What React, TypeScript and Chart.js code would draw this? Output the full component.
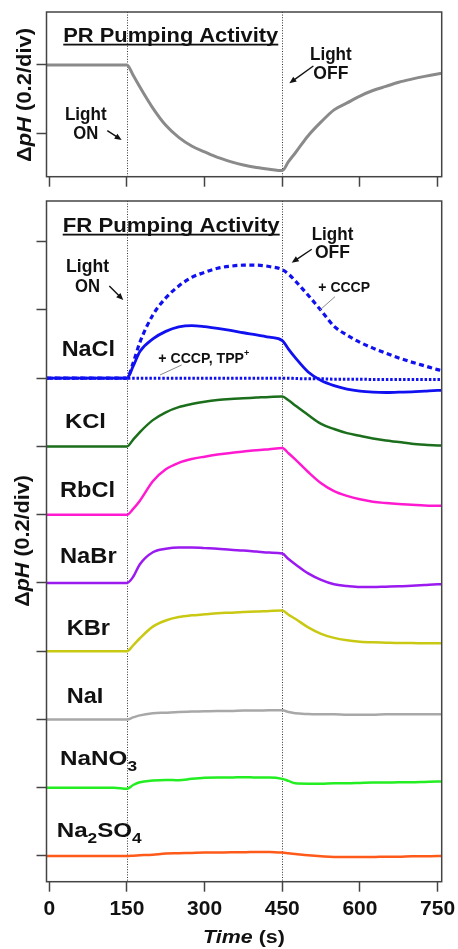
import React, { useEffect, useRef } from 'react';
import { Chart, registerables } from 'chart.js';

Chart.register(...registerables);

const FAMILY = '"Liberation Sans", Arial, sans-serif';

// ---------------- data ----------------
const TIME = [-6, 0, 25, 50, 75, 100, 125, 150, 162, 175, 200, 225, 250, 275, 300, 325, 350, 375, 400, 425, 450, 462, 475, 500, 525, 550, 575, 600, 625, 650, 675, 700, 725, 750, 758];
const X_TICKS = [0, 150, 300, 450, 600, 750];
const LIGHT_EVENTS = [150, 450];
const Y_TICKS_PR = [-0.2, 0];
const Y_TICKS_FR = [0, 0.2, 0.4, 0.6, 0.8, 1.0, 1.2, 1.4, 1.6, 1.8];

// PR (proteorhodopsin) trace, ΔpH
const PR_TRACE = [0, 0, 0, 0, 0, 0, 0, 0, -0.03, -0.064, -0.125, -0.175, -0.21, -0.235, -0.252, -0.268, -0.28, -0.29, -0.297, -0.302, -0.306, -0.28, -0.255, -0.205, -0.165, -0.13, -0.11, -0.09, -0.074, -0.062, -0.05, -0.041, -0.033, -0.026, -0.024];

// FR traces, ΔpH relative to each trace's own baseline
const NACL = [0, 0, 0, 0, 0, 0, 0, 0, 0.035, 0.078, 0.115, 0.137, 0.15, 0.154, 0.151, 0.146, 0.14, 0.133, 0.127, 0.12, 0.11, 0.085, 0.06, 0.018, -0.007, -0.022, -0.032, -0.038, -0.041, -0.042, -0.041, -0.04, -0.038, -0.036, -0.036];
const NACL_CCCP = [0, 0, 0, 0, 0, 0, 0, 0, 0.045, 0.105, 0.185, 0.235, 0.27, 0.295, 0.31, 0.322, 0.328, 0.331, 0.331, 0.327, 0.318, 0.305, 0.285, 0.243, 0.198, 0.152, 0.126, 0.105, 0.088, 0.073, 0.059, 0.047, 0.036, 0.025, 0.022];
const NACL_CCCP_TPP = [0, 0, 0, 0, 0, 0, 0, 0, 0, 0, 0, 0, 0, 0, 0, 0, 0, 0, 0, 0, 0, 0, -0.001, -0.002, -0.002, -0.003, -0.003, -0.003, -0.004, -0.004, -0.004, -0.004, -0.004, -0.004, -0.004];
const KCL = [0, 0, 0, 0, 0, 0, 0, 0, 0.02, 0.042, 0.077, 0.1, 0.115, 0.124, 0.131, 0.136, 0.139, 0.141, 0.143, 0.145, 0.146, 0.135, 0.12, 0.092, 0.066, 0.051, 0.039, 0.031, 0.023, 0.017, 0.013, 0.008, 0.005, 0.003, 0.003];
const RBCL = [0, 0, 0, 0, 0, 0, 0, 0, 0.017, 0.041, 0.098, 0.133, 0.152, 0.163, 0.17, 0.176, 0.181, 0.185, 0.189, 0.192, 0.195, 0.18, 0.162, 0.125, 0.092, 0.069, 0.055, 0.045, 0.038, 0.034, 0.031, 0.029, 0.027, 0.026, 0.026];
const NABR = [0, 0, 0, 0, 0, 0, 0, 0, 0.018, 0.055, 0.09, 0.1, 0.104, 0.104, 0.102, 0.1, 0.097, 0.095, 0.092, 0.089, 0.086, 0.07, 0.055, 0.028, 0.009, -0.004, -0.009, -0.012, -0.012, -0.011, -0.01, -0.008, -0.006, -0.004, -0.004];
const KBR = [0, 0, 0, 0, 0, 0, 0, 0, 0.017, 0.038, 0.072, 0.09, 0.1, 0.105, 0.108, 0.111, 0.113, 0.115, 0.116, 0.118, 0.119, 0.107, 0.095, 0.07, 0.051, 0.039, 0.032, 0.028, 0.026, 0.025, 0.024, 0.024, 0.023, 0.023, 0.023];
const NAI = [0, 0, 0, 0, 0, 0, 0, 0, 0.006, 0.012, 0.018, 0.02, 0.022, 0.023, 0.024, 0.025, 0.025, 0.026, 0.026, 0.027, 0.027, 0.022, 0.018, 0.016, 0.015, 0.015, 0.014, 0.014, 0.014, 0.015, 0.015, 0.015, 0.015, 0.015, 0.015];
const NANO3 = [0, 0, 0, 0, 0, 0, 0, -0.003, 0.008, 0.016, 0.021, 0.023, 0.022, 0.026, 0.029, 0.03, 0.03, 0.031, 0.03, 0.03, 0.026, 0.02, 0.013, 0.012, 0.012, 0.013, 0.013, 0.014, 0.015, 0.015, 0.016, 0.016, 0.017, 0.018, 0.018];
const NA2SO4 = [0, 0, 0, 0, 0, 0, 0, 0, 0.001, 0.002, 0.004, 0.007, 0.008, 0.009, 0.01, 0.01, 0.011, 0.011, 0.012, 0.012, 0.01, 0.008, 0.006, 0.002, -0.001, -0.003, -0.003, -0.003, -0.003, -0.002, -0.002, -0.001, -0.001, 0, 0];

// baseline offset (ΔpH) of each stacked trace
const BASE_NACL = 1.4;
const BASE_KCL = 1.2;
const BASE_RBCL = 1.0;
const BASE_NABR = 0.8;
const BASE_KBR = 0.6;
const BASE_NAI = 0.4;
const BASE_NANO3 = 0.2;
const BASE_NA2SO4 = 0.0;

// ---------------- drawing helpers ----------------
type Run = { t: string; size: number; italic?: boolean; dy?: number };
type Label = { runs: Run[]; t: number; v: number; align: 'left' | 'center'; width: number; underline?: boolean; rotate?: boolean };
type Seg = { from: [number, number]; to: [number, number] };
type Spec = { labels: Label[]; arrows: Seg[]; leaders: Seg[] };

function drawLabel(ctx: CanvasRenderingContext2D, L: Label, px: number, py: number) {
  ctx.save();
  ctx.translate(px, py);
  if (L.rotate) ctx.rotate(-Math.PI / 2);
  const fonts = L.runs.map((r) => `${r.italic ? 'italic ' : ''}bold ${r.size}px ${FAMILY}`);
  let w = 0;
  const ws = L.runs.map((r, i) => {
    ctx.font = fonts[i];
    const m = ctx.measureText(r.t).width;
    w += m;
    return m;
  });
  ctx.scale(L.width / w, 1);
  let cx = L.align === 'center' ? -w / 2 : 0;
  const x0 = cx;
  ctx.fillStyle = '#111';
  ctx.textAlign = 'left';
  ctx.textBaseline = 'alphabetic';
  L.runs.forEach((r, i) => {
    ctx.font = fonts[i];
    ctx.fillText(r.t, cx, r.dy || 0);
    cx += ws[i];
  });
  if (L.underline) ctx.fillRect(x0, 2, w, 1.8);
  ctx.restore();
}

function drawArrow(ctx: CanvasRenderingContext2D, x1: number, y1: number, x2: number, y2: number) {
  const a = Math.atan2(y2 - y1, x2 - x1);
  const L = 7, W = 3;
  ctx.beginPath();
  ctx.moveTo(x1, y1);
  ctx.lineTo(x2 - L * 0.6 * Math.cos(a), y2 - L * 0.6 * Math.sin(a));
  ctx.stroke();
  ctx.beginPath();
  ctx.moveTo(x2, y2);
  ctx.lineTo(x2 - L * Math.cos(a) + W * Math.sin(a), y2 - L * Math.sin(a) - W * Math.cos(a));
  ctx.lineTo(x2 - L * Math.cos(a) - W * Math.sin(a), y2 - L * Math.sin(a) + W * Math.cos(a));
  ctx.closePath();
  ctx.fill();
}

function overlay(id: string, spec: Spec) {
  return {
    id,
    beforeDatasetsDraw(chart: any) {
      const { ctx, chartArea: a, scales } = chart;
      ctx.save();
      ctx.strokeStyle = '#333';
      ctx.lineWidth = 1;
      ctx.setLineDash([1, 1.6]);
      LIGHT_EVENTS.forEach((t) => {
        const px = Math.round(scales.x.getPixelForValue(t)) + 0.5;
        ctx.beginPath();
        ctx.moveTo(px, a.top);
        ctx.lineTo(px, a.bottom);
        ctx.stroke();
      });
      ctx.restore();
    },
    afterDatasetsDraw(chart: any) {
      const { ctx, chartArea: a, scales } = chart;
      const X = (t: number) => scales.x.getPixelForValue(t);
      const Y = (v: number) => scales.y.getPixelForValue(v);
      ctx.save();
      ctx.strokeStyle = '#444';
      ctx.lineWidth = 1.5;
      ctx.strokeRect(a.left, a.top, a.right - a.left, a.bottom - a.top);
      ctx.strokeStyle = '#8a8a8a';
      ctx.lineWidth = 1;
      spec.leaders.forEach((s) => {
        ctx.beginPath();
        ctx.moveTo(X(s.from[0]), Y(s.from[1]));
        ctx.lineTo(X(s.to[0]), Y(s.to[1]));
        ctx.stroke();
      });
      ctx.strokeStyle = '#111';
      ctx.fillStyle = '#111';
      ctx.lineWidth = 1.4;
      spec.arrows.forEach((s) => drawArrow(ctx, X(s.from[0]), Y(s.from[1]), X(s.to[0]), Y(s.to[1])));
      spec.labels.forEach((L) => drawLabel(ctx, L, X(L.t), Y(L.v)));
      ctx.restore();
    },
  };
}

const Y_TITLE = (size: number): Run[] => [
  { t: 'Δ', size },
  { t: 'pH', size, italic: true },
  { t: ' (0.2/div)', size },
];

const PR_SPEC: Spec = {
  labels: [
    { runs: [{ t: 'PR Pumping Activity', size: 21 }], t: 27, v: 0.0675, align: 'left', width: 215, underline: true },
    { runs: [{ t: 'Light', size: 18 }], t: 70.5, v: -0.1594, align: 'center', width: 41.7 },
    { runs: [{ t: 'ON', size: 18 }], t: 70.5, v: -0.2154, align: 'center', width: 25 },
    { runs: [{ t: 'Light', size: 18 }], t: 543.8, v: 0.0145, align: 'center', width: 41.7 },
    { runs: [{ t: 'OFF', size: 18 }], t: 543.8, v: -0.0415, align: 'center', width: 35 },
    { runs: Y_TITLE(20), t: -35.3, v: -0.087, align: 'center', width: 134, rotate: true },
  ],
  arrows: [
    { from: [112, -0.1904], to: [139.8, -0.2174] },
    { from: [510, -0.0029], to: [463.6, -0.053] },
  ],
  leaders: [],
};

const FR_SPEC: Spec = {
  labels: [
    { runs: [{ t: 'FR Pumping Activity', size: 21 }], t: 25.9, v: 1.829, align: 'left', width: 217, underline: true },
    { runs: [{ t: 'Light', size: 18 }], t: 73.8, v: 1.712, align: 'center', width: 43 },
    { runs: [{ t: 'ON', size: 18 }], t: 73.8, v: 1.653, align: 'center', width: 25 },
    { runs: [{ t: 'Light', size: 18 }], t: 547, v: 1.806, align: 'center', width: 41.6 },
    { runs: [{ t: 'OFF', size: 18 }], t: 547, v: 1.751, align: 'center', width: 35 },
    { runs: [{ t: '+ CCCP', size: 14 }], t: 519.6, v: 1.653, align: 'left', width: 51.7 },
    { runs: [{ t: '+ CCCP, TPP', size: 14 }, { t: '+', size: 9, dy: -7 }], t: 210.5, v: 1.4454, align: 'left', width: 91 },
    { runs: [{ t: 'NaCl', size: 22 }], t: 75.3, v: 1.4658, align: 'center', width: 53.3 },
    { runs: [{ t: 'KCl', size: 21 }], t: 69.9, v: 1.254, align: 'center', width: 41 },
    { runs: [{ t: 'RbCl', size: 22 }], t: 73.8, v: 1.051, align: 'center', width: 55 },
    { runs: [{ t: 'NaBr', size: 22 }], t: 75.3, v: 0.8576, align: 'center', width: 56.7 },
    { runs: [{ t: 'KBr', size: 22 }], t: 75.3, v: 0.6475, align: 'center', width: 43.3 },
    { runs: [{ t: 'NaI', size: 22 }], t: 69, v: 0.4474, align: 'center', width: 36.6 },
    { runs: [{ t: 'NaNO', size: 21 }, { t: '3', size: 15, dy: 6 }], t: 20.7, v: 0.2666, align: 'left', width: 77 },
    { runs: [{ t: 'Na', size: 21 }, { t: '2', size: 15, dy: 6 }, { t: 'SO', size: 21 }, { t: '4', size: 15, dy: 6 }], t: 14.3, v: 0.0565, align: 'left', width: 85 },
    { runs: [{ t: 'Time', size: 19, italic: true }, { t: ' (s)', size: 19 }], t: 376, v: -0.2558, align: 'center', width: 81.7 },
    { runs: Y_TITLE(21), t: -39.2, v: 0.923, align: 'center', width: 131.7, rotate: true },
  ],
  arrows: [
    { from: [115.9, 1.67], to: [142.9, 1.629] },
    { from: [506.9, 1.7776], to: [468.2, 1.7384] },
  ],
  leaders: [
    { from: [551.9, 1.6388], to: [522.9, 1.5999] },
    { from: [255.7, 1.4386], to: [213.8, 1.4093] },
  ],
};

const series = (vals: number[], base: number) => TIME.map((t, i) => ({ x: t, y: base + vals[i] }));

const line = (label: string, vals: number[], base: number, color: string, width: number, dash: number[] = []) => ({
  label,
  data: series(vals, base),
  borderColor: color,
  borderWidth: width,
  borderDash: dash,
  pointRadius: 0,
  fill: false,
  cubicInterpolationMode: 'monotone' as const,
});

function xScale(height: number, showLabels: boolean, tickLength: number) {
  return {
    type: 'linear' as const,
    min: -5.4,
    max: 757.9,
    afterBuildTicks: (s: any) => {
      s.ticks = X_TICKS.map((v) => ({ value: v }));
    },
    afterFit: (s: any) => {
      s.height = height;
      s.paddingLeft = 0;
      s.paddingRight = 0;
    },
    grid: { drawOnChartArea: false, tickLength, tickColor: '#444', tickWidth: 1.5 },
    border: { display: false },
    ticks: {
      display: showLabels,
      autoSkip: false,
      maxRotation: 0,
      padding: 5,
      color: '#111',
      font: { family: FAMILY, size: 21, weight: 'bold' as const },
    },
  };
}

function yScale(min: number, max: number, ticks: number[]) {
  return {
    type: 'linear' as const,
    min,
    max,
    afterBuildTicks: (s: any) => {
      s.ticks = ticks.map((v) => ({ value: v }));
    },
    afterFit: (s: any) => {
      s.width = 46.5;
      s.paddingTop = 0;
      s.paddingBottom = 0;
    },
    grid: { drawOnChartArea: false, tickLength: 10, tickColor: '#444', tickWidth: 1.5 },
    border: { display: false },
    ticks: { display: false },
  };
}

export default function App() {
  const topRef = useRef<HTMLCanvasElement | null>(null);
  const botRef = useRef<HTMLCanvasElement | null>(null);

  useEffect(() => {
    const pr = new Chart(topRef.current as HTMLCanvasElement, {
      type: 'line',
      data: { datasets: [line('PR', PR_TRACE, 0, '#8a8a8a', 3)] },
      options: {
        responsive: false,
        animation: false,
        devicePixelRatio: 1,
        layout: { padding: { top: 12, right: 16.3, left: 0, bottom: 0 } },
        plugins: { legend: { display: false }, tooltip: { enabled: false } },
        scales: { x: xScale(18.3, false, 10), y: yScale(-0.3238, 0.1536, Y_TICKS_PR) },
      } as any,
      plugins: [overlay('prOverlay', PR_SPEC)],
    });

    const fr = new Chart(botRef.current as HTMLCanvasElement, {
      type: 'line',
      data: {
        datasets: [
          line('Na2SO4', NA2SO4, BASE_NA2SO4, '#ff5a1a', 2.5),
          line('NaNO3', NANO3, BASE_NANO3, '#22ee22', 2.5),
          line('NaI', NAI, BASE_NAI, '#a8a8a8', 2.5),
          line('KBr', KBR, BASE_KBR, '#c9c914', 2.5),
          line('NaBr', NABR, BASE_NABR, '#9a1af0', 2.5),
          line('RbCl', RBCL, BASE_RBCL, '#ff1ad1', 2.5),
          line('KCl', KCL, BASE_KCL, '#1b6e1b', 2.5),
          line('NaCl + CCCP, TPP+', NACL_CCCP_TPP, BASE_NACL, '#1010f0', 3, [2.5, 1.8]),
          line('NaCl + CCCP', NACL_CCCP, BASE_NACL, '#1010f0', 3.2, [5, 3.5]),
          line('NaCl', NACL, BASE_NACL, '#1010f0', 2.8),
        ],
      },
      options: {
        responsive: false,
        animation: false,
        devicePixelRatio: 1,
        layout: { padding: { top: 6, right: 16.3, left: 0, bottom: 0 } },
        plugins: { legend: { display: false }, tooltip: { enabled: false } },
        scales: { x: xScale(67.3, true, 10), y: yScale(-0.0753, 1.919, Y_TICKS_FR) },
      } as any,
      plugins: [overlay('frOverlay', FR_SPEC)],
    });

    return () => {
      pr.destroy();
      fr.destroy();
    };
  }, []);

  return (
    <div style={{ position: 'absolute', left: 0, top: 0, width: 458, height: 949, background: '#fff' }}>
      <canvas ref={topRef} width={458} height={195} style={{ position: 'absolute', left: 0, top: 0, width: 458, height: 195 }} />
      <canvas ref={botRef} width={458} height={754} style={{ position: 'absolute', left: 0, top: 195, width: 458, height: 754 }} />
    </div>
  );
}
